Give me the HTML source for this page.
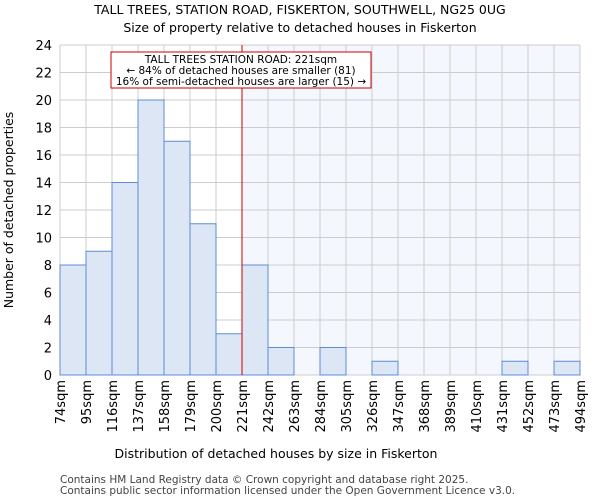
<!DOCTYPE html>
<html><head><meta charset="utf-8"><style>
body{margin:0;background:#fff;font-family:"DejaVu Sans","Liberation Sans",sans-serif}
</style></head><body>
<svg id="c" width="600" height="500" xmlns="http://www.w3.org/2000/svg" font-family="DejaVu Sans, Liberation Sans, sans-serif">
<text x="300" y="14" text-anchor="middle" font-size="12.5">TALL TREES, STATION ROAD, FISKERTON, SOUTHWELL, NG25 0UG</text>
<text x="300" y="32" text-anchor="middle" font-size="12.5">Size of property relative to detached houses in Fiskerton</text>
<g id="plot"></g>
<text x="276" y="458" text-anchor="middle" font-size="12.5">Distribution of detached houses by size in Fiskerton</text>
<text transform="translate(13,210) rotate(-90)" text-anchor="middle" font-size="12.5">Number of detached properties</text>
<text x="60" y="483" font-size="10.5" fill="#444">Contains HM Land Registry data © Crown copyright and database right 2025.</text>
<text x="60" y="494" font-size="10.5" fill="#444">Contains public sector information licensed under the Open Government Licence v3.0.</text>
</svg>
<script>
const categories=["74sqm","95sqm","116sqm","137sqm","158sqm","179sqm","200sqm","221sqm","242sqm","263sqm","284sqm","305sqm","326sqm","347sqm","368sqm","389sqm","410sqm","431sqm","452sqm","473sqm","494sqm"];
const counts=[8,9,14,20,17,11,3,8,2,0,2,0,1,0,0,0,0,1,0,1];
const yTicks=[0,2,4,6,8,10,12,14,16,18,20,22,24];
const markerIndex=7;
const NS="http://www.w3.org/2000/svg";
const L=60,R=580,T=45,B=375,yMax=24;
const bw=(R-L)/counts.length;
const x=i=>L+i*bw, y=v=>B-(v/yMax)*(B-T);
const g=document.getElementById('plot');
function mk(t,a){const e=document.createElementNS(NS,t);for(const k in a)e.setAttribute(k,a[k]);g.appendChild(e);return e;}
let e=mk('rect',{x:x(markerIndex),y:T,width:R-x(markerIndex),height:B-T,fill:'#f4f7fd'});


for(let i=0;i<=counts.length;i++){e=mk('line',{x1:x(i),x2:x(i),y1:T,y2:B,stroke:'#cccccc','stroke-width':1});

}
yTicks.forEach(v=>{e=mk('line',{x1:L,x2:R,y1:y(v),y2:y(v),stroke:'#cccccc','stroke-width':1});


e=mk('text',{x:L-8,y:y(v)+5,'text-anchor':'end','font-size':13});e.textContent=v;

});
counts.forEach((v,i)=>{if(v<=0)return;e=mk('rect',{x:x(i),y:y(v),width:bw,height:B-y(v),fill:'#dce6f4',stroke:'#5b8ed6','stroke-width':1});

});
categories.forEach((c,i)=>{e=mk('text',{transform:`translate(${x(i)+5},380) rotate(-90)`,'text-anchor':'end','font-size':13});e.textContent=c;

});
e=mk('line',{x1:x(markerIndex),x2:x(markerIndex),y1:T,y2:B,stroke:'#cc0000','stroke-width':1});


e=mk('rect',{x:111,y:52,width:260,height:36,fill:'#fff',stroke:'#cc0000','stroke-width':1});


["TALL TREES STATION ROAD: 221sqm","← 84% of detached houses are smaller (81)","16% of semi-detached houses are larger (15) →"].forEach((t,k)=>{
e=mk('text',{x:241,y:63+k*11,'text-anchor':'middle','font-size':10.5});e.textContent=t;

});
</script>
</body></html>
